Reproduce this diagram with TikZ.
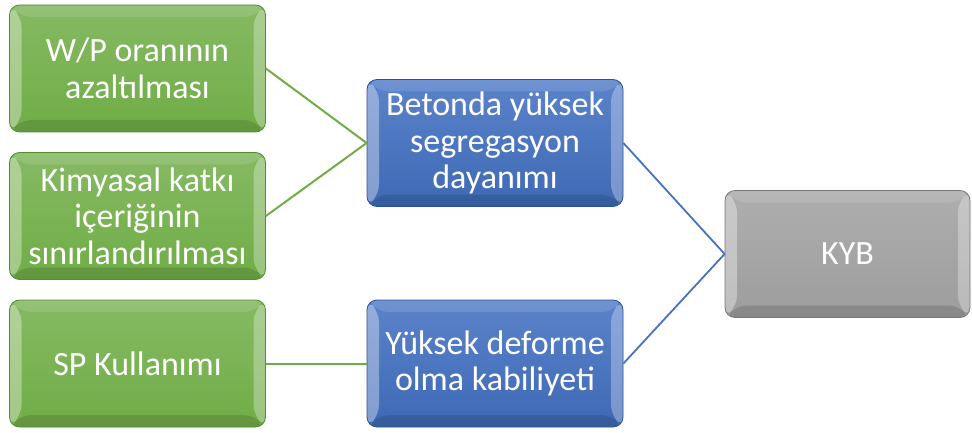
\documentclass[tikz,border=0pt]{standalone}
\usepackage{fontspec}
\setmainfont{Carlito}
\usepackage{tikz}

\definecolor{kgreen}{RGB}{112,173,71}
\definecolor{kgreendark}{RGB}{84,140,48}
\definecolor{kblue}{RGB}{68,114,196}
\definecolor{kbluedark}{RGB}{45,82,150}
\definecolor{kgray}{RGB}{165,165,165}
\definecolor{kgraydark}{RGB}{120,120,120}

\begin{document}
\begin{tikzpicture}[x=1pt,y=1pt,
	bevel/.style={path picture={
		\fill[white,opacity=0.35] (path picture bounding box.north west)
			-- ([xshift=12pt,yshift=-12pt]path picture bounding box.north west)
			-- ([xshift=12pt,yshift=12pt]path picture bounding box.south west)
			-- (path picture bounding box.south west) -- cycle;
		\fill[white,opacity=0.3] (path picture bounding box.north east)
			-- ([xshift=-12pt,yshift=-12pt]path picture bounding box.north east)
			-- ([xshift=-12pt,yshift=12pt]path picture bounding box.south east)
			-- (path picture bounding box.south east) -- cycle;
		\fill[black,opacity=0.12] (path picture bounding box.south west)
			-- ([xshift=12pt,yshift=12pt]path picture bounding box.south west)
			-- ([xshift=-12pt,yshift=12pt]path picture bounding box.south east)
			-- (path picture bounding box.south east) -- cycle;
		\fill[white,opacity=0.12] (path picture bounding box.north west)
			-- ([xshift=12pt,yshift=-12pt]path picture bounding box.north west)
			-- ([xshift=-12pt,yshift=-12pt]path picture bounding box.north east)
			-- (path picture bounding box.north east) -- cycle;
	}},
	box/.style={rectangle, rounded corners=10pt, minimum width=256pt,
		minimum height=127pt, inner sep=2pt, align=center, text=white,
		font=\fontsize{34}{36.5}\selectfont, line width=0.8pt, bevel},
	greenbox/.style={box, draw=kgreendark, top color=kgreen!85!white, bottom color=kgreen},
	bluebox/.style={box, draw=kbluedark, top color=kblue!88!white, bottom color=kblue!92!black},
	graybox/.style={box, draw=kgraydark, top color=kgray!90!white, bottom color=kgray!95!black,
		minimum width=245pt},
	gline/.style={draw=kgreen, line width=2pt},
	bline/.style={draw=kblue, line width=1.8pt}]
	\useasboundingbox (0,0) rectangle (972,432);

	% left column
	\node[greenbox] (oran) at (137.5,363.5) {W/P oranının\\azaltılması};
	\node[greenbox] (katki) at (137.5,216) {Kimyasal katkı\\içeriğinin\\sınırlandırılması};
	\node[greenbox] (sp) at (137.5,68.5) {SP Kullanımı};

	% middle column
	\node[bluebox] (segr) at (495,289) {Betonda yüksek\\segregasyon\\dayanımı};
	\node[bluebox] (defo) at (495,68.5) {Yüksek deforme\\olma kabiliyeti};

	% result
	\node[graybox] (kyb) at (847.5,178) {KYB};

	% connectors
	\draw[gline] (oran.east) -- (segr.west);
	\draw[gline] (katki.east) -- (segr.west);
	\draw[gline] (sp.east) -- (defo.west);
	\draw[bline] (segr.east) -- (kyb.west);
	\draw[bline] (defo.east) -- (kyb.west);
\end{tikzpicture}
\end{document}
